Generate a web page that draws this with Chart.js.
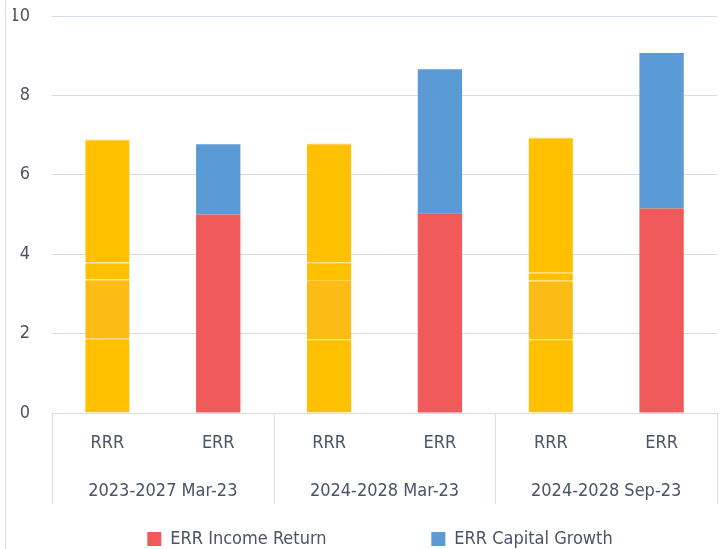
<!DOCTYPE html>
<html>
<head>
<meta charset="utf-8">
<script src="https://cdn.jsdelivr.net/npm/chart.js@4/dist/chart.umd.min.js"></script>
<style>
  html, body { margin: 0; padding: 0; background: #fff; }
  #wrap { width: 723px; height: 549px; }
</style>
</head>
<body>
<div id="wrap"><canvas id="chart"></canvas></div>
<script>
const categories = ['RRR', 'ERR', 'RRR', 'ERR', 'RRR', 'ERR'];
const groups = ['2023-2027 Mar-23', '2024-2028 Mar-23', '2024-2028 Sep-23'];

// RRR bars are built from four stacked pieces
const rrrPart1 = [1.87, null, 1.86, null, 1.86, null];
const rrrPart2 = [1.49, null, 1.49, null, 1.47, null];
const rrrPart3 = [0.43, null, 0.45, null, 0.20, null];
const rrrPart4 = [3.10, null, 2.99, null, 3.41, null];

const errIncome = [null, 5.00, null, 5.03, null, 5.15];
const errCapital = [null, 1.77, null, 3.63, null, 3.92];

const yTicks = [0, 2, 4, 6, 8, 10];

const fontFamily = "'Liberation Sans Narrow', 'DejaVu Sans Condensed', sans-serif";
const textColor = '#4B5366';
const lineColor = '#D6DCF0';

const yellowPart = (label, data, color) => ({
  label: label,
  data: data,
  backgroundColor: color,
  borderColor: '#FFD34F',
  borderWidth: { top: 1, left: 0, right: 0, bottom: 0 },
  borderSkipped: false,
  hideInLegend: true,
});

const groupLines = {
  id: 'group-lines',
  afterLayout(chart) {
    // legend in the reference sits a bit right of centre and low
    chart.legend.left += 30;
    chart.legend.top += 9;
    chart.legend.bottom += 9;
  },
  beforeDraw(chart) {
    const { ctx } = chart;
    ctx.save();
    ctx.strokeStyle = lineColor;
    ctx.lineWidth = 1;
    ctx.beginPath();
    ctx.moveTo(5.5, 0);
    ctx.lineTo(5.5, chart.height);
    ctx.stroke();
    ctx.restore();
  },
  afterDraw(chart) {
    const { ctx, chartArea } = chart;
    const x = chart.scales.x;
    const step = (x.right - x.left) / categories.length;
    ctx.save();
    ctx.strokeStyle = lineColor;
    ctx.lineWidth = 1;
    ctx.beginPath();
    for (let i = 0; i <= categories.length; i += 2) {
      const px = Math.round(x.getPixelForValue(i) - step / 2) + 0.5;
      ctx.moveTo(px, chartArea.bottom);
      ctx.lineTo(px, chartArea.bottom + 91);
    }
    ctx.stroke();
    ctx.restore();
  }
};

new Chart(document.getElementById('chart'), {
  type: 'bar',
  data: {
    labels: categories,
    datasets: [
      yellowPart('RRR 1', rrrPart1, '#FFC000'),
      yellowPart('RRR 2', rrrPart2, '#FDBB16'),
      yellowPart('RRR 3', rrrPart3, '#FFC000'),
      yellowPart('RRR 4', rrrPart4, '#FFC000'),
      { label: 'ERR Income Return', data: errIncome, backgroundColor: '#F05A5B' },
      { label: 'ERR Capital Growth', data: errCapital, backgroundColor: '#5B9BD5' },
    ],
  },
  options: {
    responsive: true,
    maintainAspectRatio: false,
    animation: false,
    devicePixelRatio: 1,
    datasets: { bar: { categoryPercentage: 1, barPercentage: 0.4 } },
    layout: { padding: { top: 0, left: 13, right: 6, bottom: 0 } },
    scales: {
      x: {
        stacked: true,
        afterFit: (scale) => { scale.height = 48; },
        grid: { display: false },
        border: { display: true, color: lineColor },
        ticks: { color: textColor, font: { family: fontFamily, size: 18 }, padding: 12 },
      },
      x2: {
        type: 'category',
        position: 'bottom',
        labels: groups,
        offset: true,
        afterFit: (scale) => { scale.height = 58; },
        grid: { display: false },
        border: { display: false },
        ticks: { color: textColor, font: { family: fontFamily, size: 18 }, padding: 12 },
      },
      y: {
        stacked: true,
        min: 0,
        max: 10,
        afterBuildTicks: (scale) => { scale.ticks = yTicks.map(v => ({ value: v })); },
        afterFit: (scale) => {
          scale.width = 39;
          scale.paddingTop = 16;
        },
        grid: { color: lineColor, drawTicks: false },
        border: { display: false },
        ticks: { color: textColor, font: { family: fontFamily, size: 18 }, padding: 22 },
      },
    },
    plugins: {
      tooltip: { enabled: false },
      legend: {
        position: 'bottom',
        labels: {
          color: textColor,
          font: { family: fontFamily, size: 18 },
          boxWidth: 14,
          boxHeight: 14,
          padding: 2,
          generateLabels: (chart) => {
            const items = Chart.defaults.plugins.legend.labels.generateLabels(chart);
            return items
              .filter(item => !chart.data.datasets[item.datasetIndex].hideInLegend)
              .map((item, i) => {
                if (i === 0) item.text = item.text + '\u00a0'.repeat(20);
                item.lineWidth = 0;
                return item;
              });
          },
        },
      },
    },
  },
  plugins: [groupLines],
});
</script>
</body>
</html>
